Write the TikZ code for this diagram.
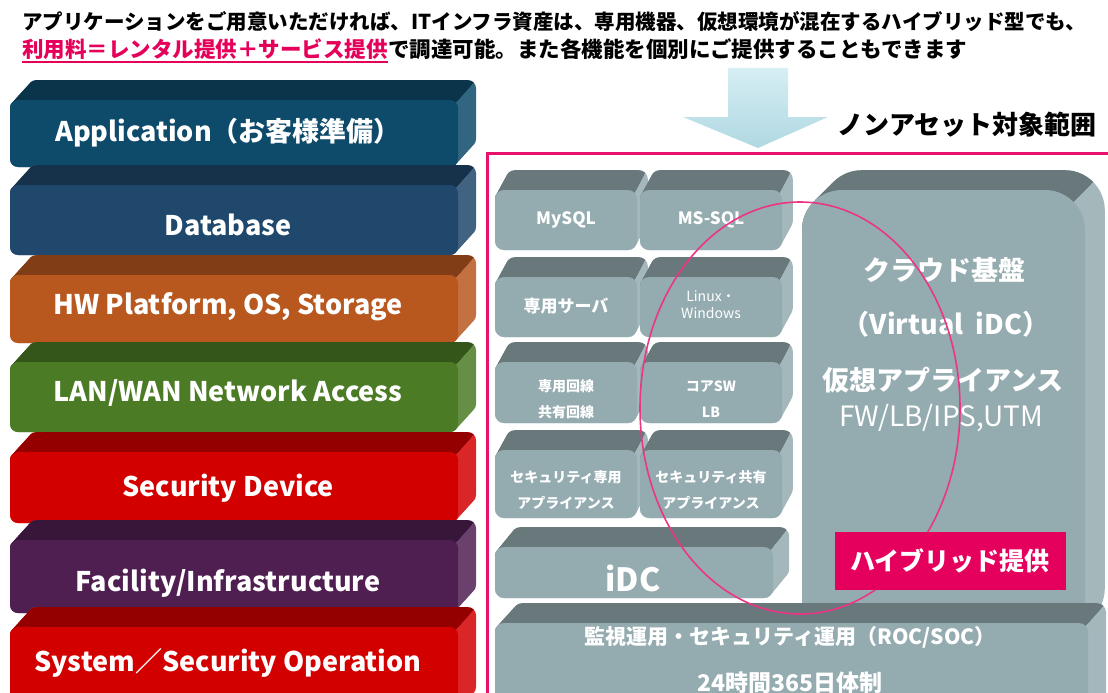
\documentclass[tikz,border=0pt]{standalone}
\usepackage{fontspec}
\setmainfont{Noto Sans CJK JP}
\usetikzlibrary{positioning}

\definecolor{appblue}{RGB}{14,74,106}
\definecolor{dbblue}{RGB}{31,72,108}
\definecolor{hworange}{RGB}{184,88,31}
\definecolor{langreen}{RGB}{75,123,37}
\definecolor{secred}{RGB}{211,0,0}
\definecolor{facpurple}{RGB}{79,31,82}
\definecolor{blockgray}{RGB}{148,171,176}
\definecolor{framepink}{RGB}{230,18,110}
\definecolor{hybridpink}{RGB}{230,0,94}
\definecolor{rentpink}{RGB}{229,0,90}
\definecolor{arrowtop}{RGB}{214,238,244}
\definecolor{arrowbottom}{RGB}{176,216,226}

\tikzset{slabtext/.style = {text=white, font=\bfseries\fontsize{27pt}{30pt}\selectfont}}
\tikzset{blocktext/.style = {text=white, font=\bfseries\fontsize{17pt}{20pt}\selectfont}}
\tikzset{twoline/.style = {text=white, align=center, font=\bfseries\fontsize{14pt}{26pt}\selectfont}}
\tikzset{smallline/.style = {text=white, align=center, font=\fontsize{14pt}{17pt}\selectfont}}
\tikzset{cloudtext/.style = {text=white, font=\bfseries\fontsize{27pt}{30pt}\selectfont}}
\tikzset{monitortext/.style = {text=white, font=\bfseries\fontsize{21pt}{24pt}\selectfont}}
\tikzset{toptext/.style = {inner sep=0pt, anchor=base west, font=\bfseries\fontsize{20.5pt}{24pt}\selectfont}}
\tikzset{hybridbox/.style = {fill=hybridpink, text=white, minimum width=231pt, minimum height=58pt, font=\bfseries\fontsize{25pt}{28pt}\selectfont}}

% front face from (#1,#2) to (#3,#4), colour #5, side depth #6, corner radius #7
\newcommand{\solid}[7]{%
  \foreach \t in {0,0.1,...,1}
    \fill[#5!85!white, rounded corners=#7pt] ({#1+\t*#6},{#2-22*\t}) rectangle ({#3+\t*#6},{#4-22*\t});
  \begin{scope}
    \clip ({#1-30},{#2+#7}) -- ({#3-0.3*#7},{#2+0.3*#7}) -- ({#3+#6-0.3*#7},{#2-22+0.3*#7}) -- ({#3+#6+40},{#2-60}) -- ({#1-30},{#2-60}) -- cycle;
    \foreach \t in {0,0.1,...,1}
      \fill[#5!70!black, rounded corners=#7pt] ({#1+\t*#6},{#2-22*\t}) rectangle ({#3+\t*#6},{#4-22*\t});
  \end{scope}
  \fill[#5, rounded corners=#7pt] (#1,#2) rectangle (#3,#4);
}

\begin{document}
\begin{tikzpicture}[x=1pt,y=-1pt]
\useasboundingbox (0,0) rectangle (1108,693);

% heading
\node[toptext] (line1) at (22,30) {アプリケーションをご用意いただければ、ITインフラ資産は、専用機器、仮想環境が混在するハイブリッド型でも、};
\node[toptext, text=rentpink, font=\bfseries\fontsize{21.5pt}{24pt}\selectfont] (rent) at (22,58) {利用料＝レンタル提供＋サービス提供};
\node[toptext, font=\bfseries\fontsize{21.5pt}{24pt}\selectfont] (line2) at (rent.base east) {で調達可能。また各機能を個別にご提供することもできます};
\draw[rentpink, line width=1.6pt] ([yshift=-4pt]rent.base west) -- ([yshift=-4pt]rent.base east);

% left stack
\solid{10}{100}{458}{167}{appblue}{20}{8}
\node[slabtext] (app) at (228,133) {Application（お客様準備）};
\solid{10}{185}{458}{255}{dbblue}{20}{8}
\node[slabtext] (db) at (228,225) {Database};
\solid{10}{275}{458}{343}{hworange}{20}{8}
\node[slabtext] (hw) at (228,307) {HW Platform, OS, Storage};
\solid{10}{362}{458}{432}{langreen}{20}{8}
\node[slabtext] (lan) at (228,393) {LAN/WAN Network Access};
\solid{10}{452}{458}{523}{secred}{20}{8}
\node[slabtext] (secdev) at (228,488) {Security Device};
\solid{10}{540}{458}{613}{facpurple}{20}{8}
\node[slabtext] (facility) at (228,583) {Facility/Infrastructure};
\solid{10}{627}{458}{715}{secred}{20}{8}
\node[slabtext] (sysop) at (228,663) {System／Security Operation};

% arrow and scope title
\shade[top color=arrowtop, bottom color=arrowbottom] (728,68) -- (788,68) -- (788,117) -- (828,117) -- (758,148) -- (683,117) -- (728,117) -- cycle;
\node[anchor=west, inner sep=0pt, font=\bfseries\fontsize{26pt}{28pt}\selectfont] (scope) at (837,125) {ノンアセット対象範囲};

% pink frame
\draw[framepink, line width=3pt] (1120,153) -| (487,710);

% service blocks
\solid{495}{190}{637}{250}{blockgray}{12}{9}
\node[blocktext] (mysql) at (566,220) {MySQL};
\solid{640}{190}{782}{250}{blockgray}{12}{9}
\node[blocktext] (mssql) at (711,220) {MS-SQL};
\solid{495}{277}{637}{337}{blockgray}{12}{9}
\node[blocktext] (server) at (566,306) {専用サーバ};
\solid{640}{277}{782}{337}{blockgray}{12}{9}
\node[smallline] (linux) at (711,305) {Linux・\\Windows};
\solid{495}{362}{637}{423}{blockgray}{12}{9}
\node[twoline] (lines) at (566,399) {専用回線\\共有回線};
\solid{640}{362}{782}{423}{blockgray}{12}{9}
\node[twoline] (coresw) at (711,399) {コアSW\\LB};
\solid{495}{450}{637}{518}{blockgray}{12}{9}
\node[twoline] (secown) at (566,490) {セキュリティ専用\\アプライアンス};
\solid{640}{450}{782}{518}{blockgray}{12}{9}
\node[twoline] (secshared) at (711,490) {セキュリティ共有\\アプライアンス};
\solid{495}{547}{773}{598}{blockgray}{18}{9}
\node[text=white, font=\bfseries\fontsize{32pt}{34pt}\selectfont] (idc) at (633,578) {iDC};

% cloud platform
\solid{802}{190}{1085}{648}{blockgray}{22}{40}
\node[cloudtext] (cloudbase) at (944,270) {クラウド基盤};
\node[cloudtext] (virtual) at (946,324) {（Virtual\ \ iDC）};
\node[cloudtext] (appliance) at (943,380) {仮想アプライアンス};
\node[text=white, font=\fontsize{28pt}{30pt}\selectfont] (fw) at (941,418) {FW/LB/IPS,UTM};

% operation block
\solid{495}{623}{1088}{730}{blockgray}{20}{9}
\node[monitortext] (monitor) at (790,637) {監視運用・セキュリティ運用（ROC/SOC）};
\node[monitortext, font=\bfseries\fontsize{23pt}{26pt}\selectfont] (hours) at (790,683) {24時間365日体制};

% hybrid ring
\draw[framepink!85!white, line width=1.6pt] (800,408) ellipse [x radius=160, y radius=206];
\node[hybridbox] (hybrid) at (950,561) {ハイブリッド提供};
\end{tikzpicture}
\end{document}
